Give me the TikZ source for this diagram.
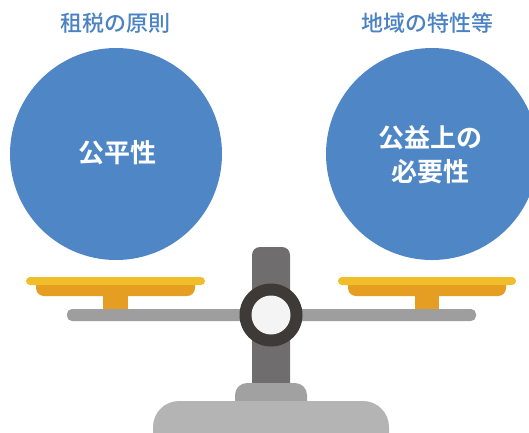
\documentclass[tikz,border=0pt]{standalone}
\usepackage{fontspec}
\newfontfamily\jpfont{Noto Sans CJK JP Medium}
\newfontfamily\jpbold{Noto Sans CJK JP Bold}
\begin{document}
\begin{tikzpicture}[x=1pt,y=-1pt,
  title/.style={font=\jpfont\fontsize{22}{24}\selectfont, text=titleblue, inner sep=0pt},
  weight/.style={fill=ballblue, draw=none},
  weighttext/.style={font=\jpbold\fontsize{26}{34}\selectfont, text=white, align=center, inner sep=0pt},
  pantop/.style={fill=panyellow, rounded corners=4},
  pandish/.style={fill=panorange}]
\definecolor{titleblue}{HTML}{4A82C4}
\definecolor{ballblue}{HTML}{4F87C6}
\definecolor{panyellow}{HTML}{F0BE2A}
\definecolor{panorange}{HTML}{E59D22}
\definecolor{beamgray}{HTML}{9D9E9D}
\definecolor{pillargray}{HTML}{6F6D6D}
\definecolor{ringdark}{HTML}{3D3A38}
\definecolor{ringwhite}{HTML}{F4F4F4}
\definecolor{bumpgray}{HTML}{A0A1A0}
\definecolor{basegray}{HTML}{B4B4B4}
\useasboundingbox (0,0) rectangle (529,432);
\clip (0,0) rectangle (529,432);

% headings
\node[title] (ltitle) at (115,23) {租税の原則};
\node[title] (rtitle) at (427,23) {地域の特性等};

% weights
\fill[weight] (116,154) circle (106);
\fill[weight] (432,154) circle (106);
\node[weighttext] (ltext) at (117,153) {公平性};
\node[weighttext] (rtext) at (430,155) {公益上の\\必要性};

% pans: stem, dish (its top corners hidden under the rim), rim
\foreach \xa/\xb/\da/\db/\sa/\sb in {26/205/36/195/103/128, 338/516/348/506/415/439}{
  \fill[pandish] (\sa,294) rectangle (\sb,311);
  \fill[pandish, rounded corners=8] (\da,277) rectangle (\db,296);
  \fill[pantop] (\xa,277) rectangle (\xb,285);
}

% pillar
\fill[pillargray, rounded corners=8] (252,247) rectangle (290,395);

% beam
\fill[beamgray, rounded corners=5] (67,309) rectangle (476,321);

% pivot ring
\fill[ringdark] (271,315) circle (31.5);
\fill[ringwhite] (271,315) circle (19.5);

% base
\fill[bumpgray, rounded corners=12] (235,383) rectangle (307,420);
\fill[basegray, rounded corners=26] (153,401) rectangle (389,470);
\end{tikzpicture}
\end{document}
